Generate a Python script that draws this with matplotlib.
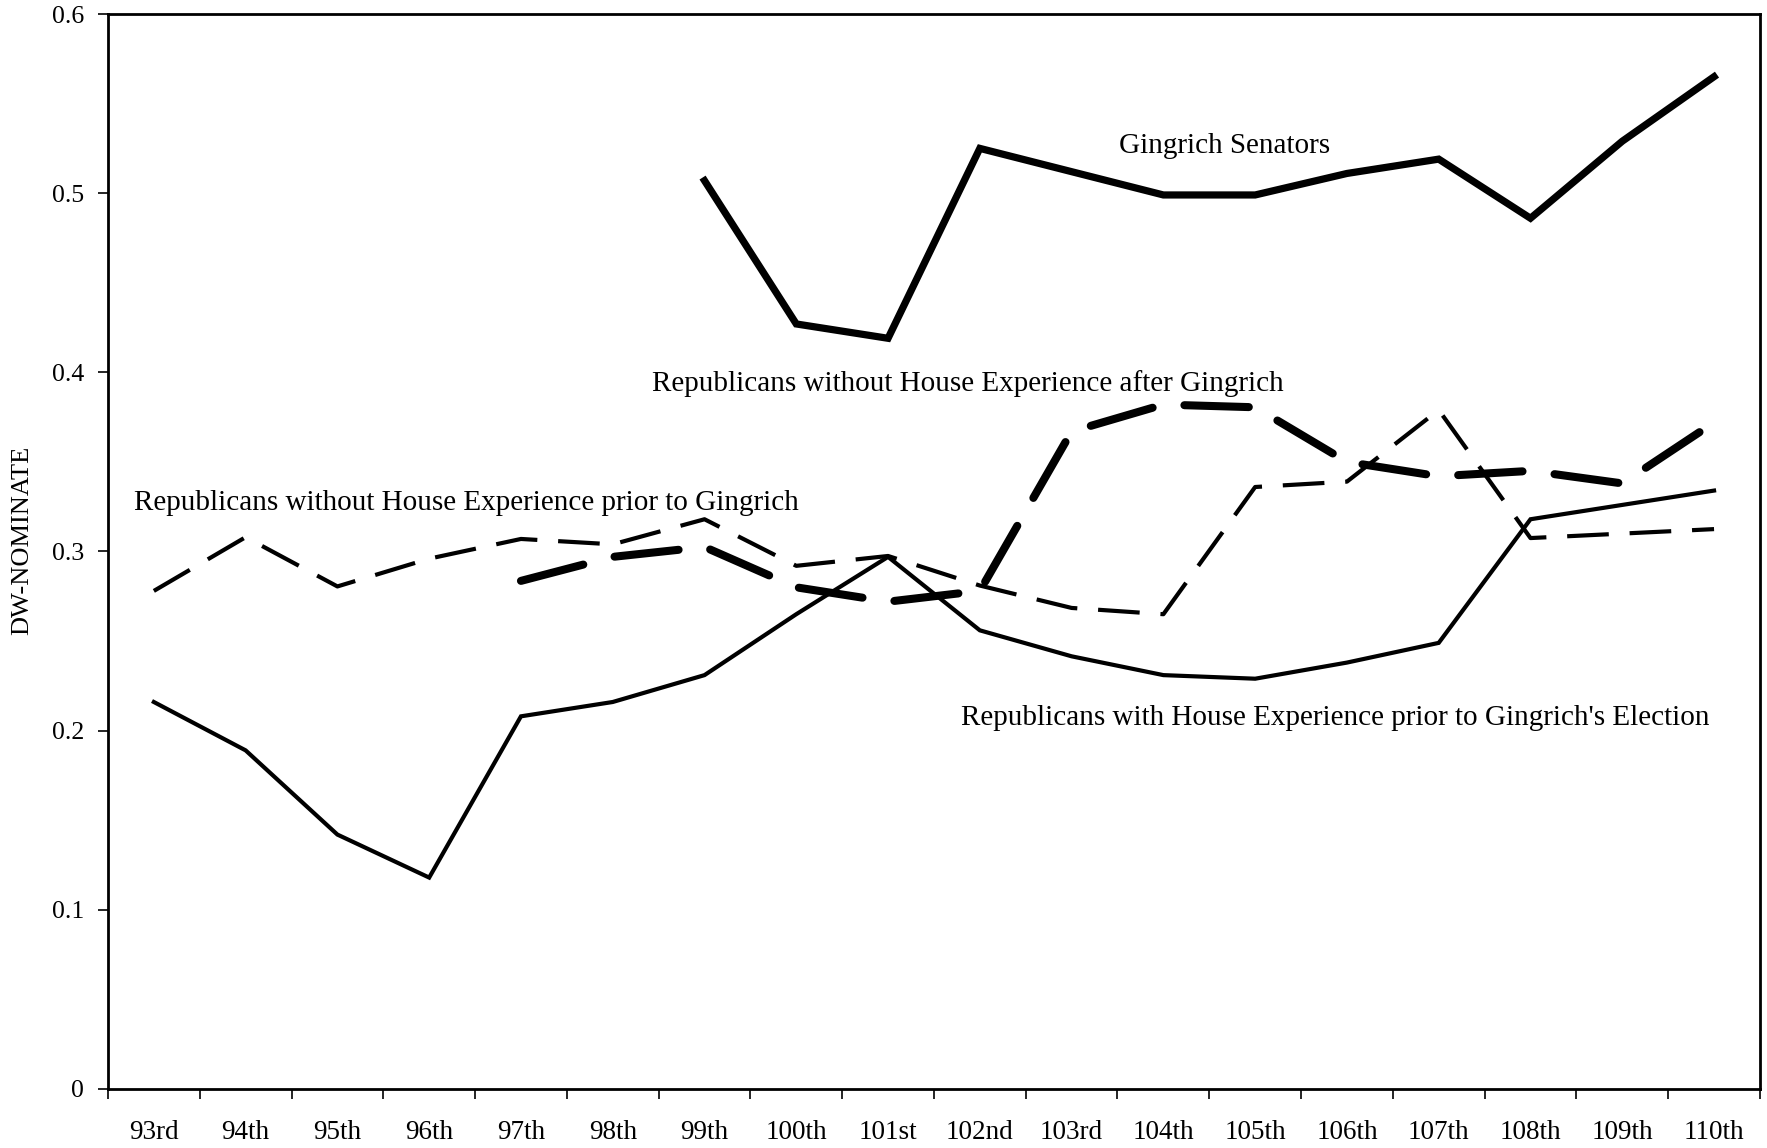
"""
DW-NOMINATE scores of Republican senators, 93rd-110th Congress
"""

import numpy as np
import matplotlib.pyplot as plt

#-----Data-----

congresses = ["93rd", "94th", "95th", "96th", "97th", "98th", "99th", "100th", "101st",
              "102nd", "103rd", "104th", "105th", "106th", "107th", "108th", "109th", "110th"]

# Gingrich Senators start at the 99th Congress
gingrich_senators = [None, None, None, None, None, None,
                     0.507, 0.427, 0.419, 0.525, 0.512, 0.499, 0.499, 0.511, 0.519, 0.486, 0.529, 0.565]

with_house_prior = [0.216, 0.189, 0.142, 0.118, 0.208, 0.216, 0.231, 0.265, 0.297,
                    0.256, 0.2415, 0.231, 0.229, 0.238, 0.249, 0.318, 0.326, 0.334]

without_house_prior = [0.278, 0.308, 0.2805, 0.296, 0.307, 0.304, 0.318, 0.292, 0.2975,
                       0.281, 0.2685, 0.265, 0.336, 0.339, 0.379, 0.3075, 0.310, 0.3125]

# starts at the 97th Congress
without_house_after = [None, None, None, None,
                       0.2836, 0.297, 0.3025, 0.280, 0.272, 0.278, 0.367, 0.382, 0.3805,
                       0.350, 0.342, 0.345, 0.338, 0.372]

def to_arr(vals):
    return np.array([np.nan if v is None else v for v in vals], dtype=float)

x = np.arange(len(congresses))

#-----Plot-----

plt.rcParams['font.family'] = ['Liberation Serif', 'DejaVu Serif']

fig = plt.figure(figsize=(17.67, 11.48), dpi=100)
ax = fig.add_axes([0.0611, 0.0514, 0.9349, 0.9364])

ax.plot(x, to_arr(with_house_prior), color='black', lw=3.0, solid_joinstyle='miter')
ax.plot(x, to_arr(without_house_prior), color='black', lw=3.0,
        dashes=(10, 5), dash_capstyle='butt')
ax.plot(x, to_arr(without_house_after), color='black', lw=5.8,
        dashes=(8, 4), dash_capstyle='round')
ax.plot(x, to_arr(gingrich_senators), color='black', lw=5.2, solid_joinstyle='miter')

#-----Labels on the lines-----

fs = 21
ax.text(11.665, 0.5264, "Gingrich Senators", ha='center', va='center', fontsize=fs)
ax.text(8.866, 0.3937, "Republicans without House Experience after Gingrich",
        ha='center', va='center', fontsize=fs)
ax.text(3.401, 0.327, "Republicans without House Experience prior to Gingrich",
        ha='center', va='center', fontsize=fs)
ax.text(12.868, 0.2069, "Republicans with House Experience prior to Gingrich's Election",
        ha='center', va='center', fontsize=fs)

#-----Axes-----

ax.set_xlim(-0.5, len(congresses) - 0.5)
ax.set_ylim(0, 0.6)

ax.set_xticks(x)
ax.set_xticklabels(congresses, fontsize=19.5)
ax.set_xticks(np.arange(-0.5, len(congresses)), minor=True)
ax.tick_params(axis='x', which='major', length=0, pad=22)
ax.tick_params(axis='x', which='minor', length=7, width=1.2, direction='out')

ax.set_yticks(np.arange(0, 0.61, 0.1))
ax.set_yticklabels(["0", "0.1", "0.2", "0.3", "0.4", "0.5", "0.6"], fontsize=18.5)
ax.tick_params(axis='y', length=7, width=1.2, direction='out', pad=10)

ax.set_ylabel("DW-NOMINATE", fontsize=19)
ax.yaxis.set_label_coords(-0.045, 0.51)

for s in ax.spines.values():
    s.set_linewidth(2.0)
    s.set_color('black')

fig.savefig("out.png", dpi=100)
